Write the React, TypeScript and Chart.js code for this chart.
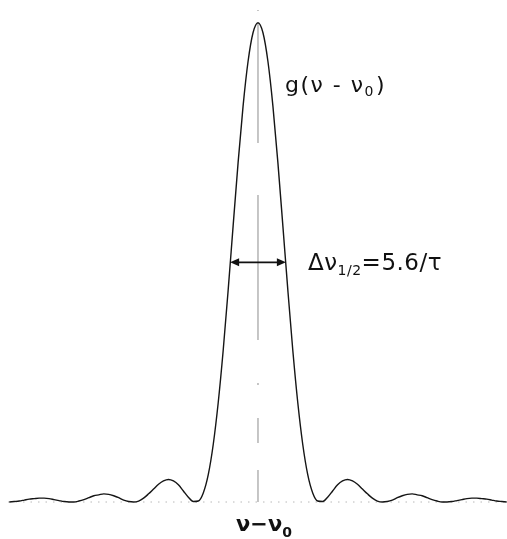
import React, { useEffect, useRef } from "react";
import { Chart, registerables } from "chart.js";

Chart.register(...registerables);

// Detuning ν − ν0 in units of 1/τ, sampled every 0.5 from −25 to 25
const detuning: number[] = Array.from({ length: 101 }, (_, i) => -25 + i * 0.5);

// Normalised line shape g(ν − ν0) at each detuning sample
const lineShape: number[] = [
  0.000, 0.001, 0.002, 0.004, 0.006, 0.007, 0.008, 0.008, 0.007, 0.005,
  0.003, 0.001, 0.000, 0.000, 0.002, 0.005, 0.009, 0.013, 0.015, 0.017,
  0.016, 0.013, 0.009, 0.004, 0.001, 0.000, 0.002, 0.008, 0.017, 0.027,
  0.037, 0.044, 0.047, 0.044, 0.036, 0.023, 0.010, 0.001, 0.002, 0.019,
  0.057, 0.120, 0.207, 0.316, 0.442, 0.576, 0.708, 0.826, 0.919, 0.979,
  1.000,
  0.979, 0.919, 0.826, 0.708, 0.576, 0.442, 0.316, 0.207, 0.120, 0.057,
  0.019, 0.002, 0.001, 0.010, 0.023, 0.036, 0.044, 0.047, 0.044, 0.037,
  0.027, 0.017, 0.008, 0.002, 0.000, 0.001, 0.004, 0.009, 0.013, 0.016,
  0.017, 0.015, 0.013, 0.009, 0.005, 0.002, 0.000, 0.000, 0.001, 0.003,
  0.005, 0.007, 0.008, 0.008, 0.007, 0.006, 0.004, 0.002, 0.001, 0.000,
];

// Full width at half maximum, in units of 1/τ
const fwhm = 5.6;

const FONT = '"DejaVu Sans", sans-serif';

const annotations = {
  id: "lineShapeAnnotations",
  beforeDatasetsDraw(chart: any) {
    const { ctx, scales } = chart;
    const xs = scales.x;
    const ys = scales.y;
    const cx = xs.getPixelForValue(0);
    const yTop = ys.top;
    const yBase = ys.getPixelForValue(0);

    ctx.save();
    // centre line at ν = ν0
    ctx.strokeStyle = "#8c8c8c";
    ctx.lineWidth = 1;
    ctx.setLineDash([1, 12, 120, 52, 145, 43, 2, 33, 25, 27, 32]);
    ctx.beginPath();
    ctx.moveTo(cx, yTop);
    ctx.lineTo(cx, yBase);
    ctx.stroke();

    // faint dotted zero level
    ctx.strokeStyle = "#b8b8b8";
    ctx.setLineDash([1.5, 6]);
    ctx.beginPath();
    ctx.moveTo(xs.left, yBase);
    ctx.lineTo(xs.right, yBase);
    ctx.stroke();
    ctx.restore();
  },
  afterDatasetsDraw(chart: any) {
    const { ctx, scales } = chart;
    const xs = scales.x;
    const ys = scales.y;
    const yHalf = ys.getPixelForValue(0.5);
    const xl = xs.getPixelForValue(-fwhm / 2);
    const xr = xs.getPixelForValue(fwhm / 2);

    ctx.save();
    // double-headed FWHM arrow
    ctx.strokeStyle = "#111";
    ctx.fillStyle = "#111";
    ctx.lineWidth = 1.6;
    ctx.beginPath();
    ctx.moveTo(xl + 4, yHalf);
    ctx.lineTo(xr - 4, yHalf);
    ctx.stroke();
    const head = (tip: number, dir: number) => {
      ctx.beginPath();
      ctx.moveTo(tip, yHalf);
      ctx.lineTo(tip + dir * 9, yHalf - 4);
      ctx.lineTo(tip + dir * 9, yHalf + 4);
      ctx.closePath();
      ctx.fill();
    };
    head(xl, 1);
    head(xr, -1);

    ctx.textBaseline = "alphabetic";
    ctx.textAlign = "left";

    // g(ν − ν0)
    ctx.letterSpacing = "1.5px";
    let x = 285;
    const gy = 92;
    ctx.font = `22px ${FONT}`;
    const part1 = "g(\u03BD - \u03BD";
    ctx.fillText(part1, x, gy);
    x += ctx.measureText(part1).width;
    ctx.font = `14px ${FONT}`;
    ctx.fillText("0", x, gy + 4);
    x += ctx.measureText("0").width + 1;
    ctx.font = `22px ${FONT}`;
    ctx.fillText(")", x, gy);

    // Δν1/2 = 5.6/τ
    ctx.letterSpacing = "0.5px";
    x = 308;
    const dy = 270;
    ctx.font = `23px ${FONT}`;
    ctx.fillText("\u0394\u03BD", x, dy);
    x += ctx.measureText("\u0394\u03BD").width;
    ctx.font = `14px ${FONT}`;
    ctx.fillText("1/2", x, dy + 5);
    x += ctx.measureText("1/2").width;
    ctx.font = `23px ${FONT}`;
    ctx.fillText(`=${fwhm.toFixed(1)}/\u03C4`, x, dy);

    // axis caption ν − ν0
    ctx.letterSpacing = "0px";
    const cap = "\u03BD\u2212\u03BD";
    ctx.font = `bold 21px ${FONT}`;
    const w1 = ctx.measureText(cap).width;
    ctx.font = `bold 14px ${FONT}`;
    const w2 = ctx.measureText("0").width;
    let bx = 264 - (w1 + w2) / 2;
    ctx.font = `bold 21px ${FONT}`;
    ctx.fillText(cap, bx, 531);
    bx += w1;
    ctx.font = `bold 14px ${FONT}`;
    ctx.fillText("0", bx, 537);
    ctx.restore();
  },
};

export default function App() {
  const canvasRef = useRef<HTMLCanvasElement | null>(null);

  useEffect(() => {
    if (!canvasRef.current) return;
    const points = detuning.map((d, i) => ({ x: d, y: lineShape[i] }));
    const chart = new Chart(canvasRef.current, {
      type: "line",
      data: {
        datasets: [
          {
            data: points,
            borderColor: "#151515",
            borderWidth: 1.4,
            pointRadius: 0,
            cubicInterpolationMode: "monotone",
            fill: false,
          },
        ],
      },
      options: {
        animation: false,
        responsive: true,
        maintainAspectRatio: false,
        layout: { padding: { left: 8, right: 0, top: 10, bottom: 30 } },
        plugins: {
          legend: { display: false },
          tooltip: { enabled: false },
        },
        scales: {
          x: { type: "linear", min: -25.13, max: 25.03, display: false },
          y: { type: "linear", min: -0.0146, max: 1.0265, display: false },
        },
      },
      plugins: [annotations],
    });
    return () => chart.destroy();
  }, []);

  return (
    <div
      style={{
        position: "absolute",
        left: 0,
        top: 0,
        width: 507,
        height: 539,
        background: "#fff",
      }}
    >
      <canvas ref={canvasRef} />
    </div>
  );
}
